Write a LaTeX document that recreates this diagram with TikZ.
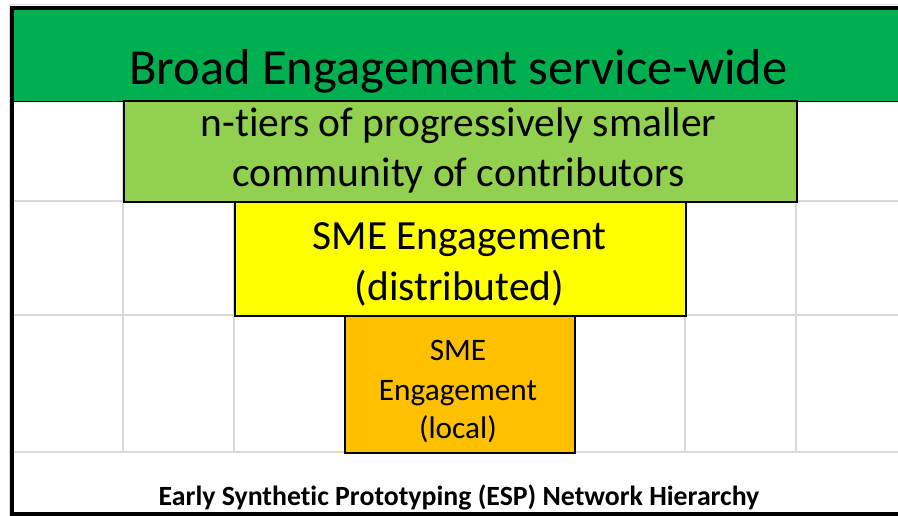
\documentclass[tikz,border=0pt]{standalone}
\usepackage{fontspec}
\setmainfont{Carlito}[RawFeature={-liga}]
\definecolor{gBroad}{HTML}{00B050}
\definecolor{gTier}{HTML}{92D050}
\definecolor{ySME}{HTML}{FFFF00}
\definecolor{oSME}{HTML}{FFC000}
\definecolor{gridgray}{HTML}{D9D9D9}
\tikzset{
  gridline/.style={draw=gridgray, line width=1.3pt},
  tierbox/.style={draw=black, line width=1.6pt, inner sep=0pt, anchor=north west},
  lbl/.style={anchor=base, inner sep=0pt, text=black},
  bigtxt/.style={font=\fontsize{50.5}{54}\selectfont},
  midtxt/.style={font=\fontsize{41.5}{44}\selectfont},
  smalltxt/.style={font=\fontsize{31.3}{34}\selectfont},
  captxt/.style={font=\bfseries\fontsize{27.8}{30}\selectfont},
}
\begin{document}
\begin{tikzpicture}[x=1pt,y=-1pt]
\useasboundingbox (0,0) rectangle (898,516);
\fill[white] (0,0) rectangle (898,516);
% faint outer sheet edge
\draw[gridgray, line width=1pt] (9,516) -- (9,5) -- (898,5);
% grid lines
\foreach \yy in {201,315,452} \draw[gridline] (12,\yy) -- (898,\yy);
\foreach \xx in {123,234,685,796} \draw[gridline] (\xx,100) -- (\xx,452);
% boxes
\node[tierbox, fill=gBroad, draw=none, minimum width=886pt, minimum height=91pt] (broad) at (12,9) {};
\draw[black, line width=1.6pt] (broad.south west) -- (broad.south east);
\node[tierbox, fill=gTier, minimum width=673pt, minimum height=101pt] (tier) at (123,100) {};
\node[tierbox, fill=ySME, minimum width=451pt, minimum height=114pt] (dist) at (234,201) {};
\node[tierbox, fill=oSME, minimum width=230pt, minimum height=137pt] (local) at (344,315) {};
% thick sheet border
\draw[black, line width=4pt] (12,516) -- (12,8) -- (898,8);
\draw[black, line width=4pt] (10,514) -- (898,514);
% texts
\node[lbl, bigtxt] (t1) at (458.5,85) {Broad Engagement service-wide};
\node[lbl, midtxt] (t2a) at (458.5,137) {n-tiers of progressively smaller};
\node[lbl, midtxt] (t2b) at (458.5,187) {community of contributors};
\node[lbl, midtxt] (t3a) at (459.5,250) {SME Engagement};
\node[lbl, midtxt] (t3b) at (459.5,300) {(distributed)};
\node[lbl, smalltxt] (t4a) at (458,360) {SME};
\node[lbl, smalltxt] (t4b) at (458,400) {Engagement};
\node[lbl, smalltxt] (t4c) at (458,438) {(local)};
\node[lbl, captxt] (cap) at (459,505) {Early Synthetic Prototyping (ESP) Network Hierarchy};
\end{tikzpicture}
\end{document}
